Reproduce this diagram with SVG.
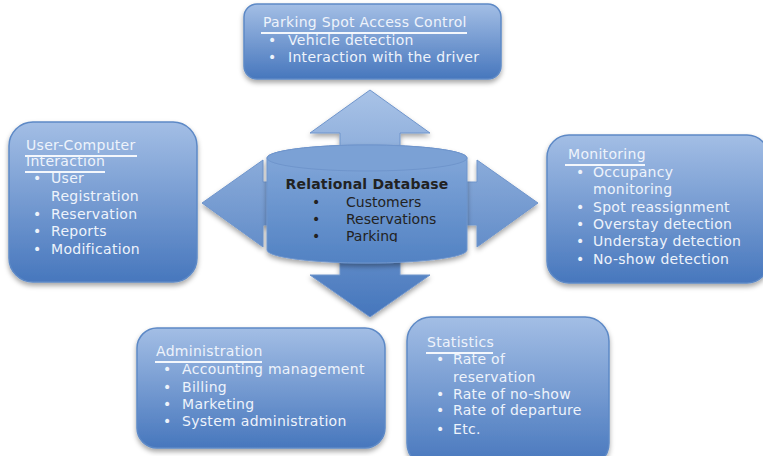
<svg xmlns="http://www.w3.org/2000/svg" width="763" height="456" viewBox="0 0 763 456">
<defs>
<linearGradient id="gBox" x1="0" y1="0" x2="0" y2="1">
<stop offset="0" stop-color="#a3bee5"/>
<stop offset="1" stop-color="#4777bd"/>
</linearGradient>
<linearGradient id="gArrow" x1="0" y1="0" x2="0" y2="1">
<stop offset="0" stop-color="#a9c3e7"/>
<stop offset="1" stop-color="#4576bc"/>
</linearGradient>
<linearGradient id="gCyl" x1="0" y1="0" x2="0" y2="1">
<stop offset="0" stop-color="#86aadb"/>
<stop offset="1" stop-color="#5282c3"/>
</linearGradient>
<filter id="sh" x="-10%" y="-10%" width="120%" height="130%">
<feDropShadow dx="0" dy="3" stdDeviation="2.5" flood-color="#000" flood-opacity="0.35"/>
</filter>
<clipPath id="dbclip"><rect x="267" y="170" width="200" height="72"/></clipPath>
</defs>
<style>
.box{fill:url(#gBox);stroke:#5d89c6;stroke-width:1.5;filter:url(#sh)}
.t{font-family:"DejaVu Sans",Verdana,sans-serif;font-size:14px;letter-spacing:0.3px;fill:#eef3fb}
.ul{stroke:#f4f7fc;stroke-width:2}
.d{font-family:"DejaVu Sans",Verdana,sans-serif;font-size:14px;fill:#222}
.db{font-weight:bold;letter-spacing:0.2px}
</style>
<g id="connectors">
<path d="M370,90 L430,133 L400,133 L400,182 L477,182 L477,160 L538,203 L477,247 L477,225 L400,225 L400,275 L430,275 L370,317 L310,275 L340,275 L340,225 L263,225 L263,247 L202,203 L263,160 L263,182 L340,182 L340,133 L310,133 Z" fill="url(#gArrow)" stroke="#6f95cc" stroke-width="1" filter="url(#sh)"/>
</g>
<g id="database">
<path d="M267,158 L267,250 A100,13 0 0 0 467,250 L467,158 A100,13 0 0 0 267,158 Z" fill="url(#gCyl)" stroke="#6f95cc" stroke-width="1" filter="url(#sh)"/>
<ellipse cx="367" cy="158" rx="100" ry="13" fill="#7ba1d5" stroke="#6f95cc" stroke-width="1"/>
<g clip-path="url(#dbclip)">
<text class="d db" x="367" y="189" text-anchor="middle">Relational Database</text>
<text class="d" x="312" y="207">•</text><text class="d" x="346" y="207">Customers</text>
<text class="d" x="312" y="224">•</text><text class="d" x="346" y="224">Reservations</text>
<text class="d" x="312" y="241">•</text><text class="d" x="346" y="241">Parking</text>
</g>
</g>
<g id="access">
<rect class="box" x="244" y="4" width="257" height="75" rx="13"/>
<text class="t" x="263" y="27">Parking Spot Access Control</text>
<line class="ul" x1="261" y1="33" x2="467" y2="33"/>
<text class="t" x="268" y="45">•</text><text class="t" x="288" y="45">Vehicle detection</text>
<text class="t" x="268" y="62">•</text><text class="t" x="288" y="62">Interaction with the driver</text>
</g>
<g id="user">
<rect class="box" x="9" y="122" width="188" height="160" rx="24"/>
<text class="t" x="26" y="150">User-Computer</text>
<line class="ul" x1="25" y1="156" x2="137" y2="156"/>
<text class="t" x="26" y="166">Interaction</text>
<line class="ul" x1="25" y1="172" x2="105" y2="172"/>
<text class="t" x="33" y="183">•</text><text class="t" x="51" y="183">User</text>
<text class="t" x="51" y="201">Registration</text>
<text class="t" x="33" y="219">•</text><text class="t" x="51" y="219">Reservation</text>
<text class="t" x="33" y="236">•</text><text class="t" x="51" y="236">Reports</text>
<text class="t" x="33" y="254">•</text><text class="t" x="51" y="254">Modification</text>
</g>
<g id="monitoring">
<rect class="box" x="547" y="135" width="222" height="148" rx="22"/>
<text class="t" x="568" y="159">Monitoring</text>
<line class="ul" x1="565" y1="165" x2="645" y2="165"/>
<text class="t" x="576" y="177">•</text><text class="t" x="593" y="177">Occupancy</text>
<text class="t" x="593" y="194">monitoring</text>
<text class="t" x="576" y="212">•</text><text class="t" x="593" y="212">Spot reassignment</text>
<text class="t" x="576" y="229">•</text><text class="t" x="593" y="229">Overstay detection</text>
<text class="t" x="576" y="246">•</text><text class="t" x="593" y="246">Understay detection</text>
<text class="t" x="576" y="264">•</text><text class="t" x="593" y="264">No-show detection</text>
</g>
<g id="administration">
<rect class="box" x="137" y="328" width="248" height="120" rx="20"/>
<text class="t" x="156" y="356">Administration</text>
<line class="ul" x1="155" y1="362" x2="262" y2="362"/>
<text class="t" x="163" y="374">•</text><text class="t" x="182" y="374">Accounting management</text>
<text class="t" x="163" y="392">•</text><text class="t" x="182" y="392">Billing</text>
<text class="t" x="163" y="409">•</text><text class="t" x="182" y="409">Marketing</text>
<text class="t" x="163" y="426">•</text><text class="t" x="182" y="426">System administration</text>
</g>
<g id="statistics">
<rect class="box" x="407" y="317" width="202" height="150" rx="24"/>
<text class="t" x="427" y="347">Statistics</text>
<line class="ul" x1="426" y1="353" x2="493" y2="353"/>
<text class="t" x="436" y="364">•</text><text class="t" x="453" y="364">Rate of</text>
<text class="t" x="453" y="382">reservation</text>
<text class="t" x="436" y="399">•</text><text class="t" x="453" y="399">Rate of no-show</text>
<text class="t" x="436" y="415">•</text><text class="t" x="453" y="415">Rate of departure</text>
<text class="t" x="436" y="434">•</text><text class="t" x="453" y="434">Etc.</text>
</g>
</svg>
